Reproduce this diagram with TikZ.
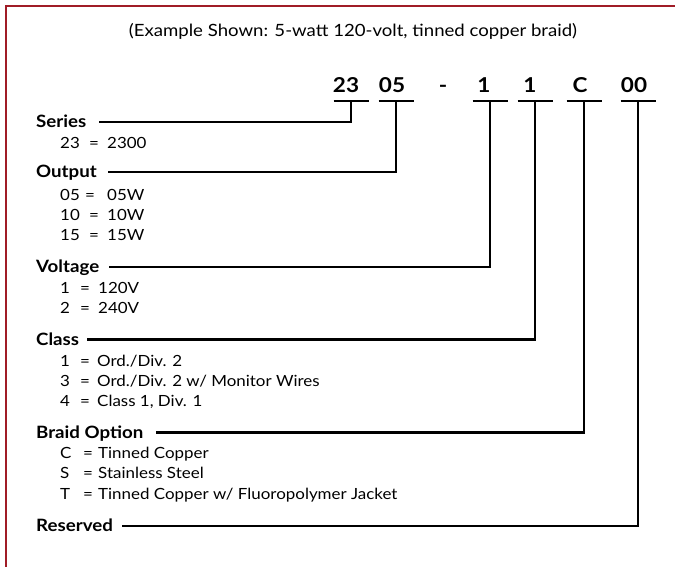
\documentclass[tikz,border=0pt]{standalone}
\usepackage{fontspec}
\setmainfont[FakeStretch=1.1]{Lato}
\definecolor{framered}{HTML}{A01C26}
\newcommand{\kvrow}[4]{\rlap{#3}\hspace{#1}\rlap{=}\hspace{#2}#4}
\begin{document}
\begin{tikzpicture}[x=1pt,y=-1pt,
  lbl/.style={font=\bfseries\fontsize{17}{19}\selectfont, anchor=west, inner sep=0pt, text height=11.5pt, text depth=0pt},
  opt/.style={font=\fontsize{15.4}{18}\selectfont, anchor=west, inner sep=0pt, text height=11.5pt, text depth=0pt},
  codetxt/.style={font=\bfseries\fontsize{20.5}{24}\selectfont, anchor=base, inner sep=0pt},
  titletxt/.style={font=\fontsize{16.9}{19}\selectfont, inner sep=0pt},
  wire/.style={line width=2.7pt, line join=miter},
  framestyle/.style={draw=framered, line width=2.2pt}
]
\useasboundingbox (0,0) rectangle (675,567);
\draw[framestyle] (6,567) -- (6,6) -- (675,6);

\node[titletxt] (title) at (353,31) {(Example Shown: 5-watt 120-volt, tinned copper braid)};

% code segments
\node[codetxt] (k23) at (346,93) {23};
\node[codetxt] (k05) at (392,93) {05};
\node[codetxt] (kdash) at (443,93) {-};
\node[codetxt] (k1a) at (484,93) {1};
\node[codetxt] (k1b) at (530,93) {1};
\node[codetxt] (kC) at (580,93) {C};
\node[codetxt] (k00) at (634,93) {00};

\coordinate (b23) at (351,101);
\coordinate (b05) at (396,101);
\coordinate (b1a) at (490,101);
\coordinate (b1b) at (535,101);
\coordinate (bC) at (584,101);
\coordinate (b00) at (638,101);

\foreach \b in {b23,b05,b1a,b1b,bC,b00}
  \draw[wire] ([xshift=-17.5pt]\b) -- ([xshift=17.5pt]\b);

% labels
\node[lbl] (series) at (36,122) {Series};
\node[lbl] (output) at (36,172) {Output};
\node[lbl] (voltage) at (36,267) {Voltage};
\node[lbl] (class) at (36,339.5) {Class};
\node[lbl] (braid) at (36,432.5) {Braid Option};
\node[lbl] (reserved) at (36,526) {Reserved};

% connectors
\draw[wire] (b23) |- ([xshift=12pt]series.east);
\draw[wire] (b05) |- ([xshift=11pt]output.east);
\draw[wire] (b1a) |- ([xshift=10pt]voltage.east);
\draw[wire] (b1b) |- ([xshift=8pt]class.east);
\draw[wire] (bC) |- ([xshift=12pt]braid.east);
\draw[wire] (b00) |- ([xshift=9pt]reserved.east);

% options
\node[opt] (s23) at (60,143) {\kvrow{29pt}{18pt}{23}{2300}};
\node[opt] (o05) at (60,194.5) {\kvrow{25pt}{22pt}{05}{05W}};
\node[opt] (o10) at (60,215) {\kvrow{29pt}{18pt}{10}{10W}};
\node[opt] (o15) at (60,235) {\kvrow{29pt}{18pt}{15}{15W}};
\node[opt] (v1) at (60,288) {\kvrow{20pt}{18pt}{1}{120V}};
\node[opt] (v2) at (60,307.5) {\kvrow{20pt}{18pt}{2}{240V}};
\node[opt] (c1) at (60,361) {\kvrow{20pt}{17pt}{1}{Ord./Div. 2}};
\node[opt] (c3) at (60,381) {\kvrow{20pt}{17pt}{3}{Ord./Div. 2 w/ Monitor Wires}};
\node[opt] (c4) at (60,400.5) {\kvrow{20pt}{17pt}{4}{Class 1, Div. 1}};
\node[opt] (bc) at (60,453) {\kvrow{23pt}{15pt}{C}{Tinned Copper}};
\node[opt] (bs) at (60,473) {\kvrow{23pt}{15pt}{S}{Stainless Steel}};
\node[opt] (bt) at (60,494) {\kvrow{23pt}{15pt}{T}{Tinned Copper w/ Fluoropolymer Jacket}};
\end{tikzpicture}
\end{document}
